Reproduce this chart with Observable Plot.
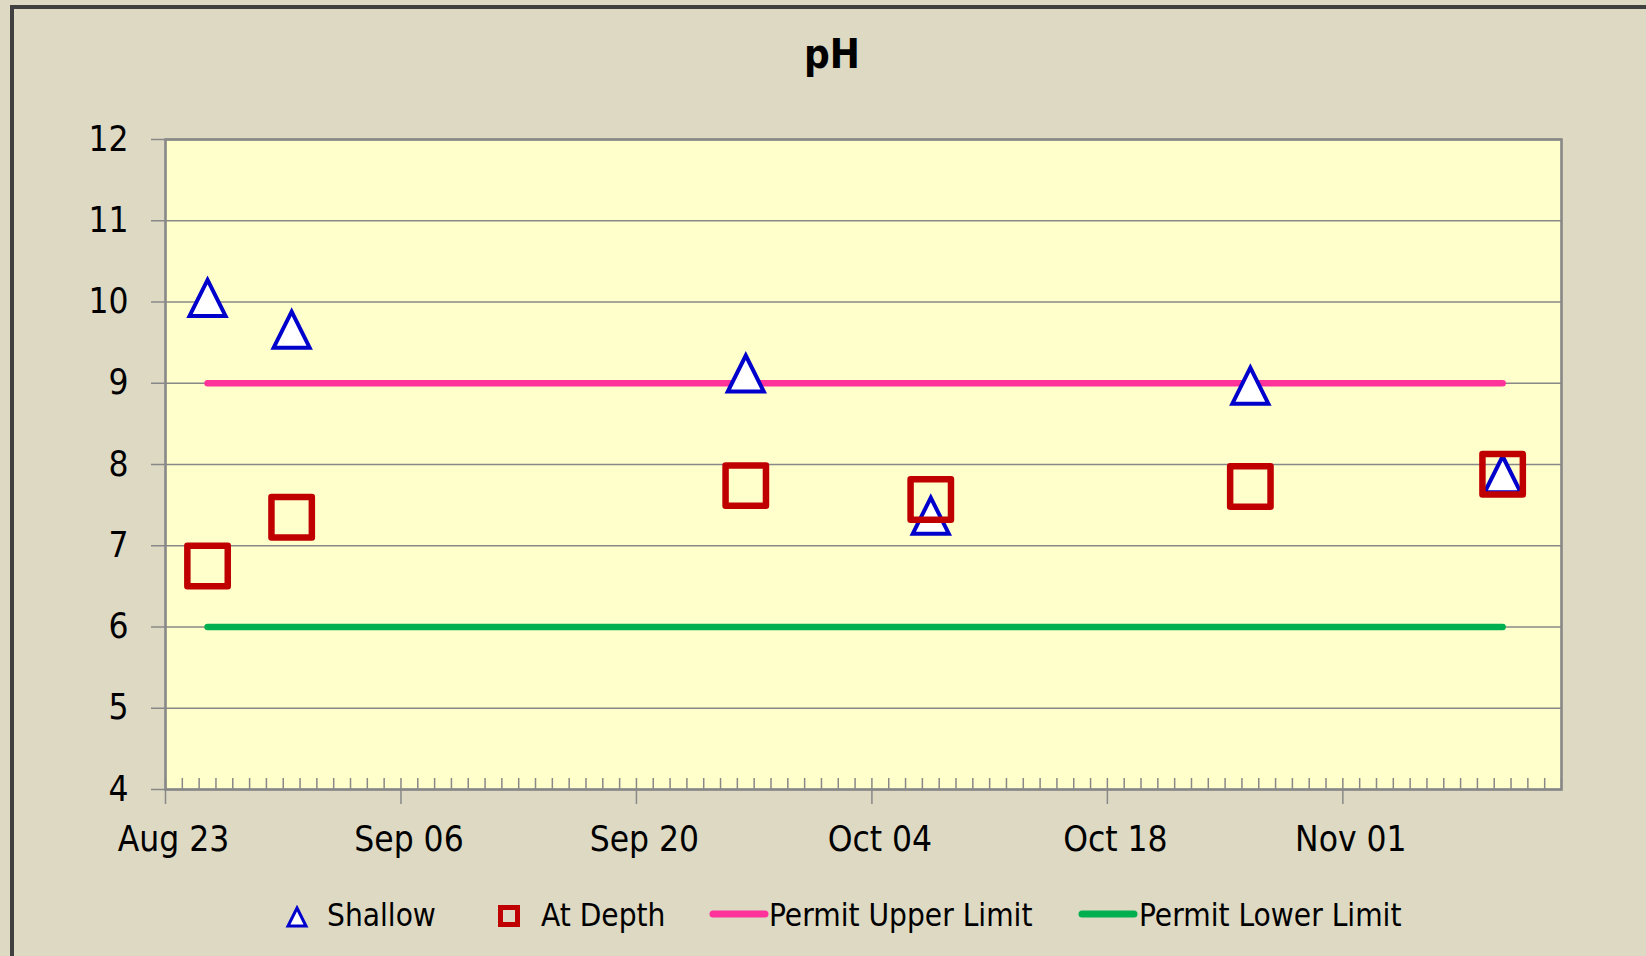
<!DOCTYPE html>
<html><head><meta charset="utf-8">
<script src="https://cdn.jsdelivr.net/npm/d3@7"></script>
<script src="https://cdn.jsdelivr.net/npm/@observablehq/plot@0.6"></script>
<style>
html,body{margin:0;padding:0;background:#DDD9C3;}
#wrap{position:relative;width:1646px;height:956px;overflow:hidden;background:#DDD9C3;font-family:"DejaVu Sans Condensed","DejaVu Sans",sans-serif;}
#border{position:absolute;left:10px;top:5px;width:1700px;height:1000px;border:4px solid #404040;box-sizing:border-box;}
#title{position:absolute;left:10px;top:31px;width:1644px;text-align:center;font-weight:bold;font-size:40px;color:#000;}
#chart{position:absolute;left:0;top:90px;}
#legend{position:absolute;left:0;top:880px;width:1646px;height:76px;}
.lg{position:absolute;font-size:31.3px;color:#000;top:17px;white-space:nowrap;}
.sym{position:absolute;}
</style></head>
<body><div id="wrap">
<div id="border"></div>
<div id="title">pH</div>
<div id="chart"></div>
<div id="legend">
  <svg class="sym" style="left:285px;top:25px" width="24" height="24"><path d="M12,3L21,21L3,21Z" fill="#fff" stroke="#0000CC" stroke-width="3"/></svg>
  <span class="lg" style="left:327px">Shallow</span>
  <svg class="sym" style="left:497px;top:24px" width="24" height="24"><rect x="3.5" y="3.5" width="17" height="17" fill="none" stroke="#C00000" stroke-width="5"/></svg>
  <span class="lg" style="left:541px">At Depth</span>
  <svg class="sym" style="left:709px;top:28px" width="60" height="12"><line x1="4" y1="6" x2="56" y2="6" stroke="#FF3399" stroke-width="7" stroke-linecap="round"/></svg>
  <span class="lg" style="left:769px">Permit Upper Limit</span>
  <svg class="sym" style="left:1078px;top:28px" width="60" height="12"><line x1="4" y1="6" x2="56" y2="6" stroke="#00B050" stroke-width="7" stroke-linecap="round"/></svg>
  <span class="lg" style="left:1139px">Permit Lower Limit</span>
</div>
</div>
<script>
// ---- data ----
const sampleDates = ["2010-08-25","2010-08-30","2010-09-26","2010-10-07","2010-10-26","2010-11-10"];
const shallow = [10.05, 9.66, 9.12, 7.37, 8.97, 7.88];
const atDepth = [6.75, 7.35, 7.74, 7.57, 7.73, 7.88];
const limitDates = ["2010-08-25","2010-11-10"];
const upperLimit = [9, 9];
const lowerLimit = [6, 6];
const xStart = "2010-08-23", xEnd = "2010-11-14";
const majorTickDates = ["2010-08-23","2010-09-06","2010-09-20","2010-10-04","2010-10-18","2010-11-01"];
const yTicks = [4,5,6,7,8,9,10,11,12];

// Excel date axis: each day is a slot, points sit at the slot centre
const HALF_DAY = 12*3600*1000;
const dt = s => new Date(s + "T00:00:00Z");
const mid = s => new Date(dt(s).getTime() + HALF_DAY);

const shallowData = sampleDates.map((d,i)=>({date: mid(d), v: shallow[i]}));
const depthData = sampleDates.map((d,i)=>({date: mid(d), v: atDepth[i]}));
const upperData = limitDates.map((d,i)=>({date: mid(d), v: upperLimit[i]}));
const lowerData = limitDates.map((d,i)=>({date: mid(d), v: lowerLimit[i]}));
const days = d3.utcDay.range(dt(xStart), d3.utcDay.offset(dt(xEnd),1));
const majors = majorTickDates.map(dt);

const triangle = {draw(ctx, size){ const r = Math.sqrt(size/Math.PI); ctx.moveTo(0,-r); ctx.lineTo(r,r); ctx.lineTo(-r,r); ctx.closePath(); }};
const square = {draw(ctx, size){ const r = Math.sqrt(size/Math.PI); ctx.rect(-r,-r,2*r,2*r); }};

const chart = Plot.plot({
  width: 1646, height: 790,
  marginLeft: 165, marginRight: 85, marginTop: 49, marginBottom: 91,
  style: {background: "transparent", fontFamily: "'DejaVu Sans Condensed','DejaVu Sans',sans-serif", color: "#000"},
  x: {type: "utc", domain: [dt(xStart), dt(xEnd)], label: null},
  y: {domain: [4, 12], label: null},
  marks: [
    Plot.frame({fill: "#FFFFCC"}),
    Plot.ruleY(yTicks, {stroke: "#888", strokeWidth: 1.4}),
    Plot.ruleX(days, {x: d=>d, y1: 4, y2: 4, insetBottom: 11, stroke: "#888", strokeWidth: 1.5}),
    Plot.axisY({ticks: yTicks, label: null, tickSize: 14, tickPadding: 23, fontSize: 35, stroke: "#888", strokeWidth: 1.5, tickFormat: d=>String(d), fill: "#000"}),
    Plot.axisX({ticks: majors, label: null, tickSize: 15, stroke: "#888", strokeWidth: 1.5, text: null}),
    Plot.axisX({ticks: majors, label: null, tickSize: 0, tickPadding: 37, dx: 8, fontSize: 35, fill: "#000", tickFormat: d3.utcFormat("%b %d")}),
    Plot.frame({stroke: "#888", strokeWidth: 2.6}),
    Plot.line(upperData, {x: "date", y: "v", stroke: "#FF3399", strokeWidth: 6.5, strokeLinecap: "round"}),
    Plot.line(lowerData, {x: "date", y: "v", stroke: "#00B050", strokeWidth: 6.5, strokeLinecap: "round"}),
    Plot.dot(shallowData, {x: "date", y: "v", symbol: triangle, r: 18, fill: "#fff", stroke: "#0000CC", strokeWidth: 4, strokeLinejoin: "miter"}),
    Plot.dot(depthData, {x: "date", y: "v", symbol: square, r: 20.2, fill: "none", stroke: "#C00000", strokeWidth: 6.5, strokeLinejoin: "round"})
  ]
});
document.getElementById("chart").appendChild(chart);
</script>
</body></html>
